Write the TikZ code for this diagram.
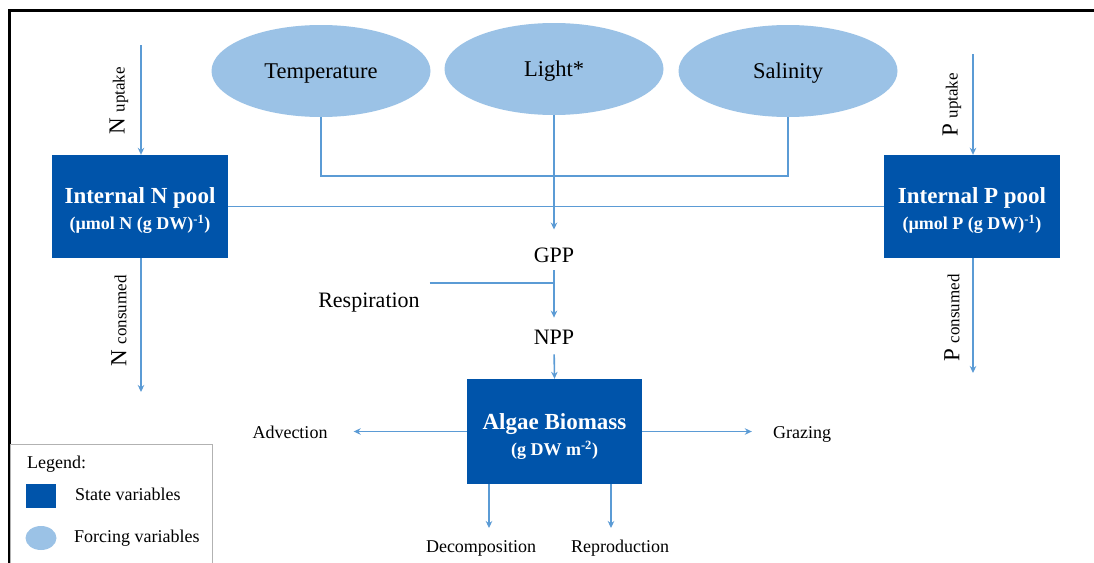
\documentclass[tikz,border=0pt]{standalone}
\usepackage{fontspec}
\setmainfont{Liberation Serif}
\usetikzlibrary{shapes.geometric,arrows.meta}
\definecolor{stateblue}{RGB}{0,84,170}
\definecolor{forceblue}{RGB}{155,194,230}
\definecolor{linkblue}{RGB}{91,155,213}
\begin{document}
\begin{tikzpicture}[x=1pt,y=-1pt,
  link/.style={draw=linkblue, line width=1.6pt},
  arr/.style={link, -{Stealth[length=7pt,width=6.5pt]}},
  statebox/.style={rectangle, fill=stateblue, text=white, inner sep=0pt, align=center, font=\bfseries\fontsize{23}{26}\selectfont},
  forcing/.style={ellipse, fill=forceblue, inner sep=0pt, text depth=0pt, minimum width=219pt, minimum height=92pt, font=\fontsize{22.5}{25}\selectfont},
  big/.style={font=\fontsize{22}{24}\selectfont, inner sep=0pt, text depth=0pt},
  small/.style={font=\fontsize{18}{20}\selectfont, inner sep=0pt, text depth=0pt},
  bottomlabel/.style={font=\fontsize{18}{20}\selectfont, inner sep=0pt, anchor=base},
  sidelabel/.style={rotate=90, inner sep=0pt, font=\fontsize{23}{26}\selectfont},
]
\useasboundingbox (0,0) rectangle (1094,562);
\fill[white] (0,0) rectangle (1094,562);
\draw[line width=3pt] (9,580) -- (9,10) -- (1110,10);

% forcing variables
\node[forcing] (temp) at (321,71) {Temperature};
\node[forcing] (light) at (554,69) {Light*};
\node[forcing] (sal) at (788,71) {Salinity};

% state variables
\node[statebox, minimum width=176pt, minimum height=103pt] (npool) at (140,206.5)
  {\rule{0pt}{24pt}Internal N pool\\{\fontsize{18}{26}\selectfont(µmol N (g DW)\textsuperscript{-1})}};
\node[statebox, minimum width=176pt, minimum height=103pt] (ppool) at (972,206.5)
  {\rule{0pt}{24pt}Internal P pool\\{\fontsize{18}{26}\selectfont(µmol P (g DW)\textsuperscript{-1})}};
\node[statebox, minimum width=175pt, minimum height=105pt] (algae) at (554.5,431.5)
  {\rule{0pt}{26pt}Algae Biomass\\{\fontsize{18}{26}\selectfont(g DW m\textsuperscript{-2})}};

% text nodes
\node[big] (gpp) at (554,255) {GPP};
\node[big] (npp) at (554,337) {NPP};
\node[big] (resp) at (369,300) {Respiration};
\node[small] (adv) at (290,432) {Advection};
\node[small] (graz) at (802,433) {Grazing};
\node[bottomlabel] (decomp) at (481,552) {Decomposition};
\node[bottomlabel] (repro) at (620,552) {Reproduction};

% side labels
\node[sidelabel] (nup) at (119,101) {N {\fontsize{17}{20}\selectfont uptake}};
\node[sidelabel] (ncons) at (119,321) {N {\fontsize{17}{20}\selectfont consumed}};
\node[sidelabel] (pup) at (952,105) {P {\fontsize{17}{20}\selectfont uptake}};
\node[sidelabel] (pcons) at (952,318) {P {\fontsize{17}{20}\selectfont consumed}};

% free ends
\coordinate (nin) at (141,45);
\coordinate (nout) at (141,392);
\coordinate (pin) at (973,54);
\coordinate (pout) at (973,373);
\coordinate (tj) at (321,176);
\coordinate (sj) at (788,176);
\coordinate (rj) at (554,283);
\coordinate (dend) at (489,528);
\coordinate (rend) at (611,528);

% connectors
\draw[link] (temp.south) -- (tj) -- (sj) -- (sal.south);
\draw[link] (npool.east) -- (ppool.west);
\draw[arr, shorten >=18pt] (light.south) -- (gpp.north);
\draw[arr, shorten <=8pt, shorten >=12pt] (gpp.south) -- (npp.north);
\draw[link] ([xshift=10pt]resp.east |- rj) -- (rj);
\draw[arr, shorten <=10pt] (npp.south) -- (algae.north);
\draw[arr] (nin) -- (npool.north -| nin);
\draw[arr] (npool.south -| nout) -- (nout);
\draw[arr] (pin) -- (ppool.north -| pin);
\draw[arr] (ppool.south -| pout) -- (pout);
\draw[arr, shorten >=21pt] (algae.east) -- (algae.east -| graz.west);
\draw[arr, shorten >=26pt] (algae.west) -- (algae.west -| adv.east);
\draw[arr] (algae.south -| dend) -- (dend);
\draw[arr] (algae.south -| rend) -- (rend);

% legend
\draw[gray!60, line width=1pt] (10,600) -- (10,444) -- (212,444) -- (212,600);
\node[small, anchor=west] (leg) at (27,462) {Legend:};
\node[rectangle, fill=stateblue, minimum width=30pt, minimum height=24pt, inner sep=0pt] (legstate) at (41,496) {};
\node[ellipse, fill=forceblue, minimum width=31pt, minimum height=24pt, inner sep=0pt] (legforce) at (41,538) {};
\node[small, anchor=west] (legstatet) at (75,494) {State variables};
\node[small, anchor=west] (legforcet) at (74,536) {Forcing variables};
\end{tikzpicture}
\end{document}
